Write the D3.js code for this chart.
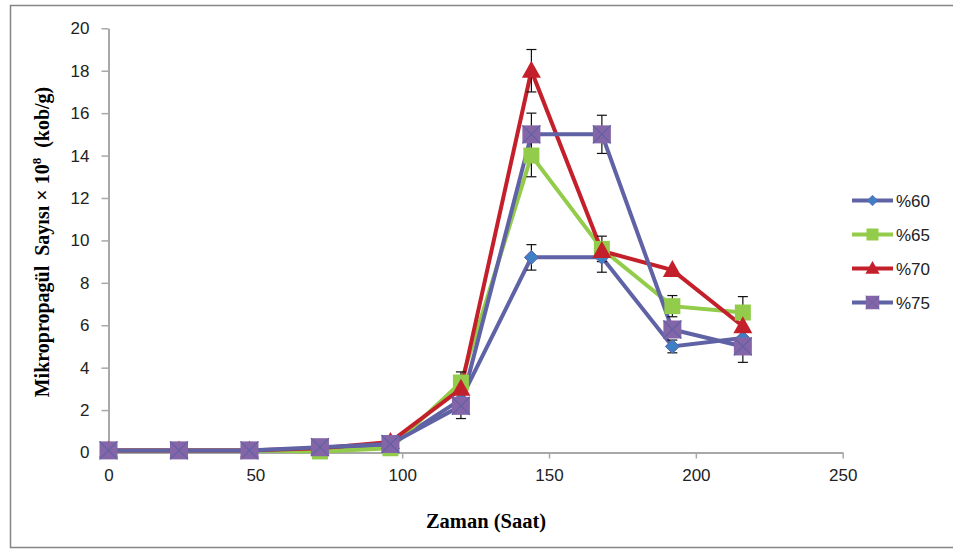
<!DOCTYPE html>
<html>
<head>
<meta charset="utf-8">
<title>Mikropropagül sayısı</title>
<script src="https://cdnjs.cloudflare.com/ajax/libs/d3/7.8.5/d3.min.js"></script>
<style>
  body { margin: 0; background: #fff; }
  .tick text { font-family: "Liberation Sans", Arial, sans-serif; font-size: 17px; fill: #222; }
</style>
</head>
<body>
<div id="chart"></div>
<script>
// zaman (saat)
var hours = [0, 24, 48, 72, 96, 120, 144, 168, 192, 216];

// series values
var p60 = [0.1, 0.1, 0.1, 0.1, 0.35, 2.5, 9.2, 9.2, 5.0, 5.4];
var p65 = [0.1, 0.1, 0.1, 0.05, 0.2, 3.3, 14.0, 9.6, 6.9, 6.6];
var p70 = [0.1, 0.1, 0.1, 0.2, 0.5, 3.0, 18.0, 9.5, 8.6, 5.95];
var p75 = [0.1, 0.1, 0.1, 0.25, 0.4, 2.2, 15.0, 15.0, 5.8, 5.0];

// error bar half-widths
var e60 = [0, 0, 0, 0, 0, 0, 0.6, 0.7, 0.3, 0];
var e65 = [0, 0, 0, 0, 0.1, 0.5, 1.0, 0.6, 0.5, 0.75];
var e70 = [0, 0, 0, 0, 0.1, 0, 1.0, 0, 0, 0];
var e75 = [0, 0, 0, 0, 0, 0.6, 1.0, 0.9, 0, 0.75];

var seriesNames = ["%60", "%65", "%70", "%75"];
var xTicks = [0, 50, 100, 150, 200, 250];
var yTicks = [0, 2, 4, 6, 8, 10, 12, 14, 16, 18, 20];

var series = [
  { name: seriesNames[0], values: p60, err: e60, line: "#5f62a4", fill: "#3f7fc6", marker: "diamond" },
  { name: seriesNames[1], values: p65, err: e65, line: "#92cc4a", fill: "#92cc4a", marker: "square" },
  { name: seriesNames[2], values: p70, err: e70, line: "#c4202b", fill: "#c4202b", marker: "triangle" },
  { name: seriesNames[3], values: p75, err: e75, line: "#5f62a4", fill: "#8466a8", marker: "xsquare" }
];

var width = 953, height = 550;
var plotL = 108.5, plotR = 842.7, plotT = 28.3, plotB = 452.5;

var svg = d3.select("#chart").append("svg")
  .attr("width", width)
  .attr("height", height);

// outer frame
svg.append("rect")
  .attr("x", 10.5).attr("y", 5.5)
  .attr("width", 960).attr("height", 542)
  .attr("fill", "none")
  .attr("stroke", "#858585")
  .attr("stroke-width", 1.5);

var x = d3.scaleLinear().domain([0, 250]).range([plotL, plotR]);
var y = d3.scaleLinear().domain([0, 20]).range([plotB, plotT]);

// axes
var xAxis = svg.append("g")
  .attr("transform", "translate(0," + plotB + ")")
  .call(d3.axisBottom(x).tickValues(xTicks).tickSize(6).tickSizeOuter(0).tickPadding(10));
var yAxis = svg.append("g")
  .attr("transform", "translate(" + plotL + ",0)")
  .call(d3.axisLeft(y).tickValues(yTicks).tickSize(7).tickSizeOuter(0).tickPadding(12));

[xAxis, yAxis].forEach(function(a) {
  a.select(".domain").attr("stroke", "#a8a8a8").attr("stroke-width", 2);
  a.selectAll(".tick line").attr("stroke", "#a8a8a8").attr("stroke-width", 1.5);
});

// axis titles
svg.append("text")
  .attr("x", 486).attr("y", 528)
  .attr("text-anchor", "middle")
  .style("font-family", "'Liberation Serif', 'Times New Roman', serif")
  .style("font-weight", "bold")
  .style("font-size", "20.5px")
  .text("Zaman (Saat)");

var yt = svg.append("text")
  .attr("transform", "translate(49,242) rotate(-90)")
  .attr("text-anchor", "middle")
  .style("font-family", "'Liberation Serif', 'Times New Roman', serif")
  .style("font-weight", "bold")
  .style("font-size", "20px")
  .attr("xml:space", "preserve");
yt.append("tspan").text("Mikropropagül  Sayısı × 10");
yt.append("tspan").attr("dy", -8).style("font-size", "13px").text("8");
yt.append("tspan").attr("dy", 8).text("  (kob/g)");

var line = d3.line()
  .x(function(d, i) { return x(hours[i]); })
  .y(function(d) { return y(d); });

function drawMarker(g, type, cx, cy, s) {
  if (type === "diamond") {
    g.append("path")
      .attr("d", "M" + cx + "," + (cy - 7) + "L" + (cx + 7) + "," + cy + "L" + cx + "," + (cy + 7) + "L" + (cx - 7) + "," + cy + "Z")
      .attr("fill", s.fill).attr("stroke", s.line).attr("stroke-width", 1);
  } else if (type === "square") {
    g.append("rect")
      .attr("x", cx - 8).attr("y", cy - 8).attr("width", 16).attr("height", 16)
      .attr("fill", s.fill);
  } else if (type === "triangle") {
    g.append("path")
      .attr("d", "M" + cx + "," + (cy - 10) + "L" + (cx + 9.5) + "," + (cy + 7) + "L" + (cx - 9.5) + "," + (cy + 7) + "Z")
      .attr("fill", s.fill);
  } else {
    g.append("rect")
      .attr("x", cx - 9).attr("y", cy - 9).attr("width", 18).attr("height", 18)
      .attr("fill", s.fill);
    g.append("path")
      .attr("d", "M" + (cx - 9) + "," + (cy - 9) + "L" + (cx + 9) + "," + (cy + 9) + "M" + (cx + 9) + "," + (cy - 9) + "L" + (cx - 9) + "," + (cy + 9))
      .attr("stroke", "#5f62a4").attr("stroke-width", 1.2);
  }
}

// lines
series.forEach(function(s) {
  svg.append("path")
    .datum(s.values)
    .attr("d", line)
    .attr("fill", "none")
    .attr("stroke", s.line)
    .attr("stroke-width", 4);
});

// error bars
series.forEach(function(s) {
  s.values.forEach(function(v, i) {
    if (!s.err[i]) return;
    var cx = x(hours[i]);
    var g = svg.append("g").attr("stroke", "#111").attr("stroke-width", 1.2);
    g.append("line").attr("x1", cx).attr("x2", cx).attr("y1", y(v - s.err[i])).attr("y2", y(v + s.err[i]));
    [v - s.err[i], v + s.err[i]].forEach(function(e) {
      g.append("line").attr("x1", cx - 5).attr("x2", cx + 5).attr("y1", y(e)).attr("y2", y(e));
    });
  });
});

// markers
series.forEach(function(s) {
  var g = svg.append("g");
  s.values.forEach(function(v, i) {
    drawMarker(g, s.marker, x(hours[i]), y(v), s);
  });
});

// legend
var legY = [200.5, 234.5, 268.5, 302.5];
series.forEach(function(s, i) {
  var g = svg.append("g");
  g.append("line")
    .attr("x1", 852).attr("x2", 893)
    .attr("y1", legY[i]).attr("y2", legY[i])
    .attr("stroke", s.line).attr("stroke-width", 4);
  var mg = g.append("g").attr("transform", "translate(872.5," + legY[i] + ") scale(0.75) translate(-872.5," + (-legY[i]) + ")");
  drawMarker(mg, s.marker, 872.5, legY[i], s);
  g.append("text")
    .attr("x", 896).attr("y", legY[i] + 6.5)
    .style("font-family", "'Liberation Sans', Arial, sans-serif")
    .style("font-size", "17px")
    .attr("fill", "#222")
    .text(s.name);
});
</script>
</body>
</html>
